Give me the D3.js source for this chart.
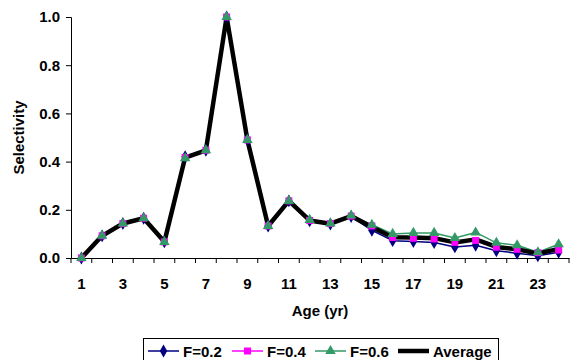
<!DOCTYPE html>
<html><head><meta charset="utf-8">
<script src="https://cdn.jsdelivr.net/npm/d3@7"></script>
<style>body{margin:0;background:#fff}svg{display:block}text{font-family:"Liberation Sans",Arial,sans-serif;font-weight:bold}</style>
</head><body><svg id="c" width="573" height="360"></svg>
<script>
const ages = d3.range(1, 25);
const tickLabels = ["1","3","5","7","9","11","13","15","17","19","21","23"];
const yTicks = [0, 0.2, 0.4, 0.6, 0.8, 1.0];
const f02 = [0, 0.092, 0.143, 0.165, 0.067, 0.42, 0.447, 1.0, 0.49, 0.133, 0.237, 0.154, 0.141, 0.172, 0.115, 0.072, 0.068, 0.064, 0.046, 0.053, 0.03, 0.02, 0.009, 0.024];
const f04 = [0, 0.092, 0.143, 0.165, 0.067, 0.417, 0.447, 1.0, 0.49, 0.133, 0.237, 0.156, 0.143, 0.174, 0.133, 0.085, 0.082, 0.079, 0.065, 0.073, 0.045, 0.036, 0.022, 0.033];
const f06 = [0, 0.092, 0.143, 0.165, 0.067, 0.414, 0.447, 1.0, 0.49, 0.133, 0.237, 0.158, 0.143, 0.176, 0.138, 0.1, 0.104, 0.104, 0.083, 0.106, 0.063, 0.053, 0.024, 0.057];
const avg = f02.map((v, i) => (v + f04[i] + f06[i]) / 3);

const series = [
  {name: "F=0.2", vals: f02, color: "#000080", marker: "diamond"},
  {name: "F=0.4", vals: f04, color: "#FF00FF", marker: "square"},
  {name: "F=0.6", vals: f06, color: "#339966", marker: "triangle"},
  {name: "Average", vals: avg, color: "#000000", marker: null}
];

const FS = 15;
const svg = d3.select("#c");
const L = 71, R = 569, T = 17, B = 258;
const x = d3.scaleBand().domain(ages).range([L, R]);
const y = d3.scaleLinear().domain([0, 1]).range([B, T]);
const cx = a => x(a) + x.bandwidth() / 2;

const yAxis = svg.append("g").attr("transform", `translate(${L},0)`)
  .call(d3.axisLeft(y).tickValues(yTicks).tickFormat(d3.format(".1f")).tickSize(5).tickPadding(6));
const xAxis = svg.append("g").attr("transform", `translate(0,${B})`)
  .call(d3.axisBottom(x).tickValues([]).tickSize(0));
xAxis.selectAll(".bt").data(d3.range(0, 25)).enter().append("line")
  .attr("x1", i => L + i * x.step()).attr("x2", i => L + i * x.step())
  .attr("y1", 0).attr("y2", 5).attr("stroke", "#000").attr("stroke-width", 1);
xAxis.selectAll(".tl").data(tickLabels).enter().append("text")
  .attr("x", d => cx(+d)).attr("y", 31).attr("text-anchor", "middle")
  .attr("fill", "#000").text(d => d);
[yAxis, xAxis].forEach(g => {
  g.select(".domain").attr("stroke", "#000").attr("stroke-width", 1);
  g.selectAll("text").attr("font-size", FS).attr("fill", "#000");
  g.selectAll("line").attr("stroke", "#000");
});

svg.append("text").attr("transform", `translate(24,${(T + B) / 2}) rotate(-90)`)
  .attr("text-anchor", "middle").attr("font-size", FS).text("Selectivity");
svg.append("text").attr("x", (L + R) / 2).attr("y", 316)
  .attr("text-anchor", "middle").attr("font-size", FS).text("Age (yr)");

const line = d3.line().x((d, i) => cx(ages[i])).y(d => y(d));
series.forEach(s => {
  svg.append("path").attr("d", line(s.vals)).attr("fill", "none")
    .attr("stroke", s.color).attr("stroke-width", s.marker ? 1.5 : 4.5)
    .attr("stroke-linejoin", "round");
});

const sym = {diamond: d3.symbolDiamond, square: d3.symbolSquare, triangle: d3.symbolTriangle};
const size = {diamond: 48, square: 49, triangle: 48};
function drawMarker(g, m, color, px, py) {
  g.append("path").attr("d", d3.symbol(sym[m], size[m])())
    .attr("transform", `translate(${px},${py})`).attr("fill", color);
}
series.filter(s => s.marker).forEach(s => {
  const g = svg.append("g");
  s.vals.forEach((v, i) => drawMarker(g, s.marker, s.color, cx(ages[i]), y(v)));
});

const lg = svg.append("g");
lg.append("rect").attr("x", 143.5).attr("y", 338.5).attr("width", 355).attr("height", 30)
  .attr("fill", "#fff").attr("stroke", "#000").attr("stroke-width", 1);
const items = [
  {s: series[0], x0: 148},
  {s: series[1], x0: 232},
  {s: series[2], x0: 315},
  {s: series[3], x0: 398}
];
items.forEach(it => {
  const ly = 351;
  lg.append("line").attr("x1", it.x0).attr("x2", it.x0 + 31).attr("y1", ly).attr("y2", ly)
    .attr("stroke", it.s.color).attr("stroke-width", it.s.marker ? 1.5 : 4.5);
  if (it.s.marker) drawMarker(lg, it.s.marker, it.s.color, it.x0 + 15.5, ly);
  lg.append("text").attr("x", it.x0 + 35).attr("y", ly + 5.5).attr("font-size", FS).text(it.s.name);
});
</script></body></html>
